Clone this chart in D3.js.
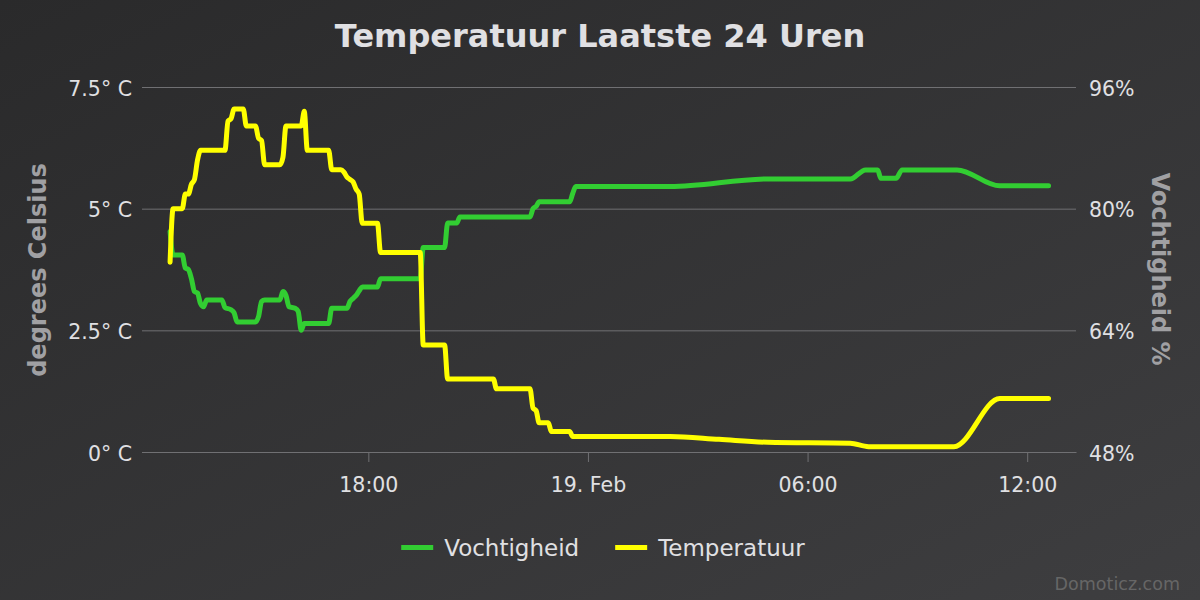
<!DOCTYPE html>
<html lang="nl">
<head>
<meta charset="utf-8">
<title>Temperatuur Laatste 24 Uren</title>

<!-- Load d3.js -->
<script src="https://d3js.org/d3.v7.min.js"></script>

<style>
	body {
		margin: 0;
		background: #2a2a2b;
	}

	svg text {
		font-family: 'DejaVu Sans', sans-serif;
	}

	.title {
		font-size: 32px;
		font-weight: bold;
		fill: #e0e0e3;
	}

	.tick text {
		font-size: 20.5px;
		fill: #e0e0e3;
	}

	.axistitle {
		font-size: 24px;
		font-weight: bold;
		fill: #a0a0a3;
	}

	.legend text {
		font-size: 23px;
		fill: #e0e0e3;
	}

	.credit {
		font-size: 17.5px;
		fill: #666666;
	}
</style>
</head>
<body>
<div id="chart"></div>

<script>

// readings, [time, value] (month-day hour:minute)
var temperatuur = [
	["02-18 12:35", 3.9], ["02-18 12:40", 5.0], ["02-18 12:55", 5.0], ["02-18 13:00", 5.3],
	["02-18 13:05", 5.3], ["02-18 13:10", 5.5], ["02-18 13:15", 5.6], ["02-18 13:20", 6.0],
	["02-18 13:25", 6.2], ["02-18 14:05", 6.2], ["02-18 14:10", 6.8], ["02-18 14:15", 6.85],
	["02-18 14:20", 7.05], ["02-18 14:35", 7.05], ["02-18 14:40", 6.7], ["02-18 14:55", 6.7],
	["02-18 15:00", 6.45], ["02-18 15:05", 6.4], ["02-18 15:10", 5.9], ["02-18 15:35", 5.9],
	["02-18 15:40", 6.05], ["02-18 15:45", 6.7], ["02-18 16:10", 6.7], ["02-18 16:15", 7.0],
	["02-18 16:20", 6.2], ["02-18 16:55", 6.2], ["02-18 17:00", 5.8], ["02-18 17:15", 5.8],
	["02-18 17:20", 5.75], ["02-18 17:25", 5.65], ["02-18 17:30", 5.6], ["02-18 17:35", 5.55],
	["02-18 17:40", 5.4], ["02-18 17:45", 5.3], ["02-18 17:50", 4.7], ["02-18 18:15", 4.7],
	["02-18 18:20", 4.1], ["02-18 19:25", 4.1], ["02-18 19:30", 2.2], ["02-18 20:05", 2.2],
	["02-18 20:10", 1.5], ["02-18 21:25", 1.5], ["02-18 21:30", 1.3], ["02-18 22:25", 1.3],
	["02-18 22:30", 0.9], ["02-18 22:35", 0.85], ["02-18 22:40", 0.6], ["02-18 22:55", 0.6],
	["02-18 23:00", 0.42], ["02-18 23:30", 0.42], ["02-18 23:35", 0.32], ["02-19 02:15", 0.32],
	["02-19 03:35", 0.26], ["02-19 04:55", 0.2], ["02-19 07:10", 0.18], ["02-19 07:40", 0.11],
	["02-19 10:00", 0.11], ["02-19 11:15", 1.1], ["02-19 12:35", 1.1]
];

var vochtigheid = [
	["02-18 12:35", 77.0], ["02-18 12:40", 73.9], ["02-18 12:55", 73.9], ["02-18 13:00", 72.2],
	["02-18 13:05", 72.0], ["02-18 13:10", 70.8], ["02-18 13:15", 69.1], ["02-18 13:20", 68.9],
	["02-18 13:25", 67.5], ["02-18 13:30", 67.1], ["02-18 13:35", 68.0], ["02-18 14:00", 68.0],
	["02-18 14:05", 67.0], ["02-18 14:15", 66.7], ["02-18 14:20", 66.3], ["02-18 14:25", 65.1],
	["02-18 14:55", 65.1], ["02-18 15:00", 65.8], ["02-18 15:05", 67.8], ["02-18 15:10", 68.0],
	["02-18 15:35", 68.0], ["02-18 15:40", 69.1], ["02-18 15:45", 68.6], ["02-18 15:50", 67.1],
	["02-18 16:00", 66.9], ["02-18 16:05", 66.5], ["02-18 16:10", 64.0], ["02-18 16:15", 64.9],
	["02-18 16:55", 64.9], ["02-18 17:00", 66.9], ["02-18 17:25", 66.9], ["02-18 17:30", 67.8],
	["02-18 17:35", 68.2], ["02-18 17:40", 68.6], ["02-18 17:45", 69.2], ["02-18 17:50", 69.7],
	["02-18 18:15", 69.7], ["02-18 18:20", 70.8], ["02-18 19:25", 70.8], ["02-18 19:30", 74.9],
	["02-18 20:05", 74.9], ["02-18 20:10", 78.1], ["02-18 20:25", 78.1], ["02-18 20:30", 78.9],
	["02-18 22:25", 78.9], ["02-18 22:30", 80.0], ["02-18 22:35", 80.3], ["02-18 22:40", 80.9],
	["02-18 23:30", 80.9], ["02-18 23:35", 82.0], ["02-18 23:40", 82.9], ["02-19 02:15", 82.9],
	["02-19 04:55", 83.9], ["02-19 07:10", 83.9], ["02-19 07:35", 85.1], ["02-19 07:55", 85.1],
	["02-19 08:00", 84.0], ["02-19 08:25", 84.0], ["02-19 08:35", 85.1], ["02-19 10:05", 85.1],
	["02-19 11:15", 83.0], ["02-19 12:35", 83.0]
];

var xRange = ["02-18 11:49", "02-19 13:20"];
var xTicks = ["02-18 18:00", "02-19 00:00", "02-19 06:00", "02-19 12:00"];
var tempTicks = [0, 2.5, 5, 7.5];
var humTicks = [48, 64, 80, 96];

var series = [
	{ name: "Vochtigheid", color: "limegreen" },
	{ name: "Temperatuur", color: "yellow" }
];

// set the dimensions and margins of the graph
var width = 1200, height = 600;
var margin = {top: 87, right: 124, bottom: 148, left: 142},
    plotW = width - margin.left - margin.right,
    plotH = height - margin.top - margin.bottom;

var parseTime = d3.timeParse("%m-%d %H:%M");
var toPoints = function(arr) { return arr.map(function(d) { return {t: parseTime(d[0]), v: d[1]} }) };

var svg = d3.select("#chart")
  .append("svg")
    .attr("width", width)
    .attr("height", height);

// background gradient
var grad = svg.append("defs")
  .append("linearGradient")
    .attr("id", "bg")
    .attr("x1", 0).attr("y1", 0)
    .attr("x2", 1).attr("y2", 1);
grad.append("stop").attr("offset", "0%").attr("stop-color", "#2a2a2b");
grad.append("stop").attr("offset", "100%").attr("stop-color", "#3e3e40");

svg.append("rect")
  .attr("width", width)
  .attr("height", height)
  .attr("fill", "url(#bg)");

var g = svg.append("g")
  .attr("transform", "translate(" + margin.left + "," + margin.top + ")");

// scales
var x = d3.scaleTime()
  .domain(xRange.map(parseTime))
  .range([0, plotW]);

var yTemp = d3.scaleLinear()
  .domain([0, 7.5])
  .range([plotH, 0]);

var yHum = d3.scaleLinear()
  .domain([48, 96])
  .range([plotH, 0]);

// left axis with the grid
g.append("g")
  .attr("class", "yaxis")
  .call(d3.axisLeft(yTemp).tickValues(tempTicks).tickSize(-plotW).tickPadding(10)
    .tickFormat(function(d) { return d + "° C" }))
  .call(function(a) { a.select(".domain").remove() })
  .call(function(a) { a.selectAll("line").attr("stroke", "#707073") })
  .call(function(a) { a.selectAll("text").attr("dy", "0.4em") });

// right axis
g.append("g")
  .attr("class", "yaxis2")
  .attr("transform", "translate(" + plotW + ",0)")
  .call(d3.axisRight(yHum).tickValues(humTicks).tickSize(0).tickPadding(13)
    .tickFormat(function(d) { return d + "%" }))
  .call(function(a) { a.select(".domain").remove() })
  .call(function(a) { a.selectAll("text").attr("dy", "0.4em") });

// x axis
var dayFormat = d3.timeFormat("%d. %b"),
    hourFormat = d3.timeFormat("%H:%M");

g.append("g")
  .attr("class", "xaxis")
  .attr("transform", "translate(0," + plotH + ")")
  .call(d3.axisBottom(x).tickValues(xTicks.map(parseTime)).tickSize(10).tickSizeOuter(0).tickPadding(15)
    .tickFormat(function(d) { return (d.getHours() == 0 && d.getMinutes() == 0) ? dayFormat(d) : hourFormat(d) }))
  .call(function(a) { a.select(".domain").attr("stroke", "#707073") })
  .call(function(a) { a.selectAll("line").attr("stroke", "#707073") });

// lines
var humLine = d3.line()
  .x(function(d) { return x(d.t) })
  .y(function(d) { return yHum(d.v) })
  .curve(d3.curveMonotoneX);

var tempLine = d3.line()
  .x(function(d) { return x(d.t) })
  .y(function(d) { return yTemp(d.v) })
  .curve(d3.curveMonotoneX);

g.append("path")
  .datum(toPoints(vochtigheid))
  .attr("d", humLine)
  .attr("fill", "none")
  .attr("stroke", series[0].color)
  .attr("stroke-width", 5)
  .attr("stroke-linecap", "round")
  .attr("stroke-linejoin", "round");

g.append("path")
  .datum(toPoints(temperatuur))
  .attr("d", tempLine)
  .attr("fill", "none")
  .attr("stroke", series[1].color)
  .attr("stroke-width", 5)
  .attr("stroke-linecap", "round")
  .attr("stroke-linejoin", "round");

// title and axis titles
svg.append("text")
  .attr("class", "title")
  .attr("x", width / 2)
  .attr("y", 47)
  .attr("text-anchor", "middle")
  .text("Temperatuur Laatste 24 Uren");

svg.append("text")
  .attr("class", "axistitle")
  .attr("text-anchor", "middle")
  .attr("transform", "translate(46,270) rotate(-90)")
  .text("degrees Celsius");

svg.append("text")
  .attr("class", "axistitle")
  .attr("text-anchor", "middle")
  .attr("transform", "translate(1152,269) rotate(90)")
  .text("Vochtigheid %");

// legend
var legend = svg.append("g").attr("class", "legend");
var cx = 0;
series.forEach(function(s, i) {
	var item = legend.append("g").attr("transform", "translate(" + cx + ",0)");
	item.append("line")
	  .attr("x1", 0).attr("x2", 32)
	  .attr("y1", 0).attr("y2", 0)
	  .attr("stroke", s.color)
	  .attr("stroke-width", 5);
	var t = item.append("text")
	  .attr("x", 43)
	  .attr("y", 8.5)
	  .text(s.name);
	cx += 43 + t.node().getComputedTextLength() + (i < series.length - 1 ? 36 : 0);
});
legend.attr("transform", "translate(" + (603 - cx / 2) + ",547.5)");

// credit
svg.append("text")
  .attr("class", "credit")
  .attr("x", 1180)
  .attr("y", 590)
  .attr("text-anchor", "end")
  .text("Domoticz.com");

</script>
</body>
</html>
